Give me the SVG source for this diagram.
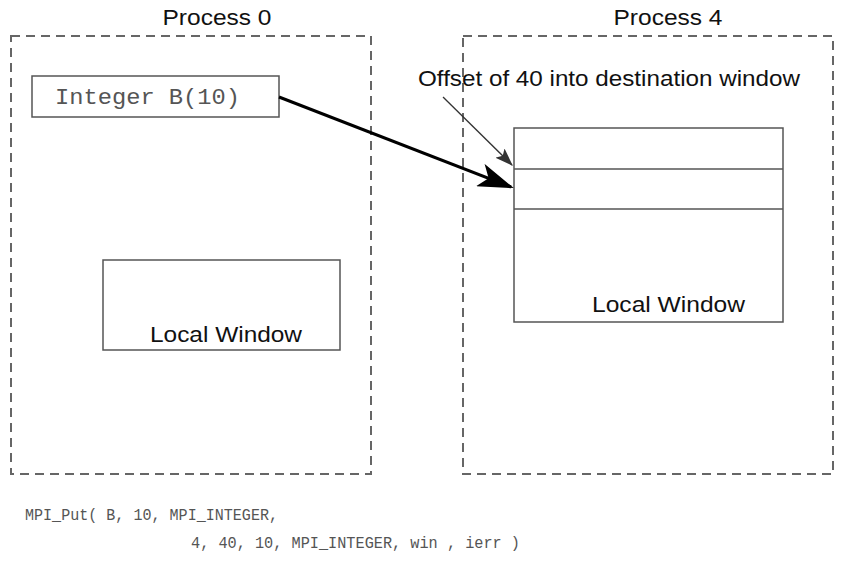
<svg xmlns="http://www.w3.org/2000/svg" width="842" height="574" viewBox="0 0 842 574">
<defs>
<style>
.proc{fill:none;stroke:#666;stroke-width:2;stroke-dasharray:9,6}
.box{fill:#fff;stroke:#555;stroke-width:1.5}
.sans{font-family:"Liberation Sans",Arial,sans-serif;fill:#111}
.mono{font-family:"Liberation Mono","Courier New",monospace;fill:#555}
</style>
<marker id="big" markerWidth="12" markerHeight="8" refX="11" refY="4" orient="auto" markerUnits="strokeWidth">
<path d="M0,0 L12,4 L0,8 L3,4 Z" fill="#000"/>
</marker>
<marker id="thin" markerWidth="14" markerHeight="10" refX="13" refY="5" orient="auto" markerUnits="strokeWidth">
<path d="M0,0 L14,5 L0,10 L3,5 Z" fill="#333"/>
</marker>
</defs>
<rect width="842" height="574" fill="#fff"/>
<g id="process0">
<rect class="proc" x="11" y="36" width="360" height="438"/>
<text class="sans" x="217" y="25" font-size="22" text-anchor="middle" textLength="109" lengthAdjust="spacingAndGlyphs">Process 0</text>
</g>
<g id="process4">
<rect class="proc" x="463" y="36" width="370" height="438"/>
<text class="sans" x="668" y="25" font-size="22" text-anchor="middle" textLength="109" lengthAdjust="spacingAndGlyphs">Process 4</text>
</g>
<g id="integerB">
<rect class="box" x="32" y="76" width="247" height="41"/>
<text class="mono" x="55" y="104" font-size="22" fill="#777" textLength="185" lengthAdjust="spacingAndGlyphs">Integer B(10)</text>
</g>
<g id="localWindow0">
<rect class="box" x="103" y="260" width="237" height="90"/>
<text class="sans" x="150" y="342" font-size="22" textLength="152" lengthAdjust="spacingAndGlyphs">Local Window</text>
</g>
<g id="localWindow4">
<rect class="box" x="514" y="128" width="269" height="194"/>
<line x1="514" y1="169" x2="783" y2="169" stroke="#555" stroke-width="1.5"/>
<line x1="514" y1="209" x2="783" y2="209" stroke="#555" stroke-width="1.5"/>
<text class="sans" x="592" y="312" font-size="22" textLength="153" lengthAdjust="spacingAndGlyphs">Local Window</text>
</g>
<g id="offsetLabel">
<text class="sans" x="418" y="86" font-size="22" textLength="382" lengthAdjust="spacingAndGlyphs">Offset of 40 into destination window</text>
</g>
<g id="connectors">
<line x1="279" y1="97" x2="511" y2="187" stroke="#000" stroke-width="3" marker-end="url(#big)"/>
<line x1="443" y1="97" x2="512" y2="165" stroke="#333" stroke-width="1.3" marker-end="url(#thin)"/>
</g>
<g id="code">
<text class="mono" x="25" y="520" font-size="17" fill="#444" textLength="253" lengthAdjust="spacingAndGlyphs">MPI_Put( B, 10, MPI_INTEGER,</text>
<text class="mono" x="191" y="548" font-size="17" fill="#444" textLength="329" lengthAdjust="spacingAndGlyphs">4, 40, 10, MPI_INTEGER, win , ierr )</text>
</g>
</svg>
